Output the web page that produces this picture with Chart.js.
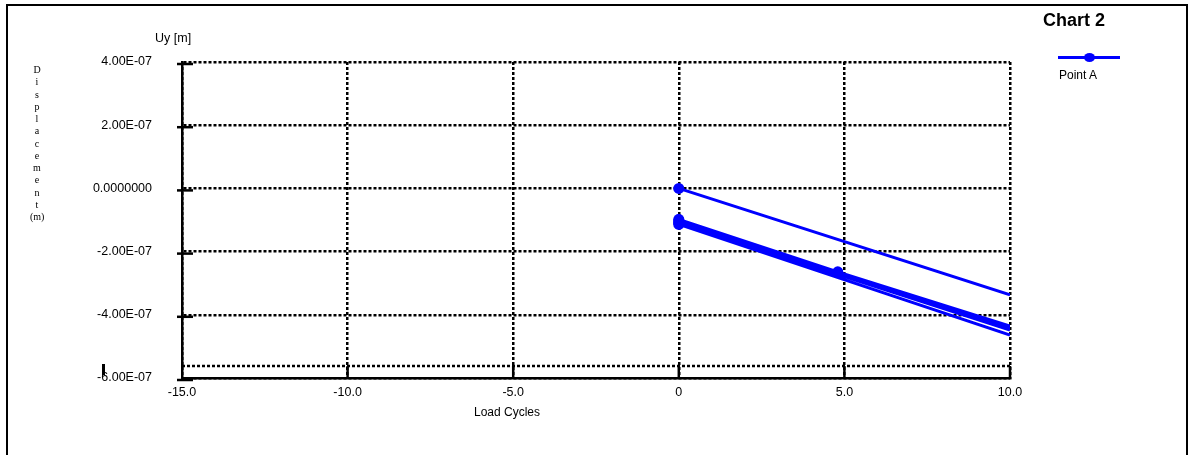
<!DOCTYPE html>
<html>
<head>
    <title>Chart 2</title>
    <script src="https://cdn.jsdelivr.net/npm/chart.js@4.4.0/dist/chart.umd.min.js"></script>
    <style>
        body { margin: 0; overflow: hidden; background: #fff; font-family: "Liberation Sans", Arial, sans-serif; }
        #wrap { position: relative; width: 1194px; height: 455px; overflow: hidden; }
        #frame { position: absolute; left: 6px; top: 4px; width: 1182px; height: 480px; border: 2px solid #000; box-sizing: border-box; }
        #stage { position: absolute; left: 0; top: 0; }
        .txt { position: absolute; color: #000; font-size: 12px; white-space: nowrap; }
        #title { left: 1043px; top: 10px; font-size: 18px; font-weight: bold; }
        #ylabel { left: 30px; top: 64px; width: 14px; font-family: "Liberation Serif", "Times New Roman", serif; font-size: 10px; line-height: 12.25px; text-align: center; }
        #legLine { position: absolute; left: 1058px; top: 56px; width: 62px; height: 3px; background: #0000ff; }
        #legDot { position: absolute; left: 1084px; top: 53px; width: 11px; height: 9px; border-radius: 50%; background: #0000ff; }
        #mark { position: absolute; left: 102px; top: 364px; width: 3px; height: 11px; background: #000; }
    </style>
</head>
<body>
<div id="wrap">
    <div id="frame"></div>
    <canvas id="stage" width="1194" height="455"></canvas>
    <div class="txt" id="title">Chart 2</div>
    <div id="legLine"></div>
    <div id="legDot"></div>
    <div class="txt" style="left:1059px; top:68px;">Point A</div>
    <div class="txt" style="left:155px; top:31px; font-size:12.5px;">Uy [m]</div>
    <div class="txt" id="ylabel">D<br>i<br>s<br>p<br>l<br>a<br>c<br>e<br>m<br>e<br>n<br>t<br>(m)</div>
    <div class="txt" style="left:474px; top:405px;">Load Cycles</div>
    <div id="mark"></div>
</div>
<script>
    // load cycles (x) and Uy of Point A (y); null splits the separate passes
    var loadCycles = [0, 10, 10, 0, 4.8, 10, 10, 0, 10, 10, 0, 10, 10, 0, 10, 10, 0, 10];
    var uyPointA = [0, -3.37e-7, null,
        -0.98e-7, -2.64e-7, -4.36e-7, null,
        -1.02e-7, -4.40e-7, null,
        -1.06e-7, -4.44e-7, null,
        -1.10e-7, -4.48e-7, null,
        -1.14e-7, -4.64e-7];

    var xTicks = [-15, -10, -5, 0, 5, 10];
    var xTickLabels = ['-15.0', '-10.0', '-5.0', '0', '5.0', '10.0'];
    var yTicks = [-6e-7, -4e-7, -2e-7, 0, 2e-7, 4e-7];
    var yTickLabels = ['-6.00E-07', '-4.00E-07', '-2.00E-07', '0.0000000', '2.00E-07', '4.00E-07'];

    var points = [];
    for (var i = 0; i < loadCycles.length; i++) {
        points.push({x: loadCycles[i], y: uyPointA[i]});
    }

    // short black tick marks crossing the axes, plus the extra dotted line above the x axis
    var axisMarks = {
        id: 'axisMarks',
        beforeDatasetsDraw: function (chart) {
            var ctx = chart.ctx;
            var a = chart.chartArea;
            ctx.save();
            ctx.strokeStyle = '#000';
            ctx.lineWidth = 2.5;
            ctx.setLineDash([3, 2]);
            ctx.beginPath();
            ctx.moveTo(a.left, a.bottom - 12);
            ctx.lineTo(a.right, a.bottom - 12);
            ctx.stroke();
            ctx.restore();
        },
        afterDraw: function (chart) {
            var ctx = chart.ctx;
            var xs = chart.scales.x, ys = chart.scales.y;
            ctx.save();
            ctx.strokeStyle = '#000';
            ctx.lineWidth = 2.5;
            ys.ticks.forEach(function (t) {
                var y = ys.getPixelForValue(t.value);
                ctx.beginPath();
                ctx.moveTo(xs.left - 5, y + 2);
                ctx.lineTo(xs.left + 11, y + 2);
                ctx.stroke();
            });
            xs.ticks.forEach(function (t) {
                if (t.value === xTicks[0]) return;
                var x = xs.getPixelForValue(t.value);
                ctx.beginPath();
                ctx.moveTo(x, ys.bottom - 12);
                ctx.lineTo(x, ys.bottom + 1);
                ctx.stroke();
            });
            ctx.restore();
        }
    };

    var tickFont = {family: 'Liberation Sans', size: 12.5};

    new Chart(document.getElementById('stage'), {
        type: 'scatter',
        data: {
            datasets: [{
                label: 'Point A',
                data: points,
                showLine: true,
                spanGaps: false,
                borderColor: '#0000ff',
                backgroundColor: '#0000ff',
                borderWidth: 3,
                pointRadius: function (c) {
                    var p = c.raw;
                    return (p && p.x === 10) ? 0 : 5.5;
                },
                pointBorderWidth: 0
            }]
        },
        options: {
            responsive: false,
            animation: false,
            layout: {padding: {left: 0, top: 62, right: 184, bottom: 0}},
            plugins: {legend: {display: false}, title: {display: false}, tooltip: {enabled: false}},
            scales: {
                x: {
                    type: 'linear',
                    min: -15,
                    max: 10,
                    afterBuildTicks: function (s) { s.ticks = xTicks.map(function (v) { return {value: v}; }); },
                    afterFit: function (s) { s.height = 77; },
                    ticks: {
                        color: '#000',
                        font: tickFont,
                        padding: 7,
                        maxRotation: 0,
                        callback: function (v) { return xTickLabels[xTicks.indexOf(v)]; }
                    },
                    grid: {color: '#000', lineWidth: 2.5, drawTicks: false},
                    border: {display: true, color: '#000', width: 2.5, dash: [3, 2]}
                },
                y: {
                    type: 'linear',
                    min: -6e-7,
                    max: 4e-7,
                    afterBuildTicks: function (s) { s.ticks = yTicks.map(function (v) { return {value: v}; }); },
                    afterFit: function (s) { s.width = 182; },
                    ticks: {
                        color: '#000',
                        font: tickFont,
                        padding: 30,
                        callback: function (v) { return yTickLabels[yTicks.indexOf(v)]; }
                    },
                    grid: {color: '#000', lineWidth: 2.5, drawTicks: false},
                    border: {display: true, color: '#000', width: 2.5, dash: [3, 2]}
                }
            }
        },
        plugins: [axisMarks]
    });
</script>
</body>
</html>
